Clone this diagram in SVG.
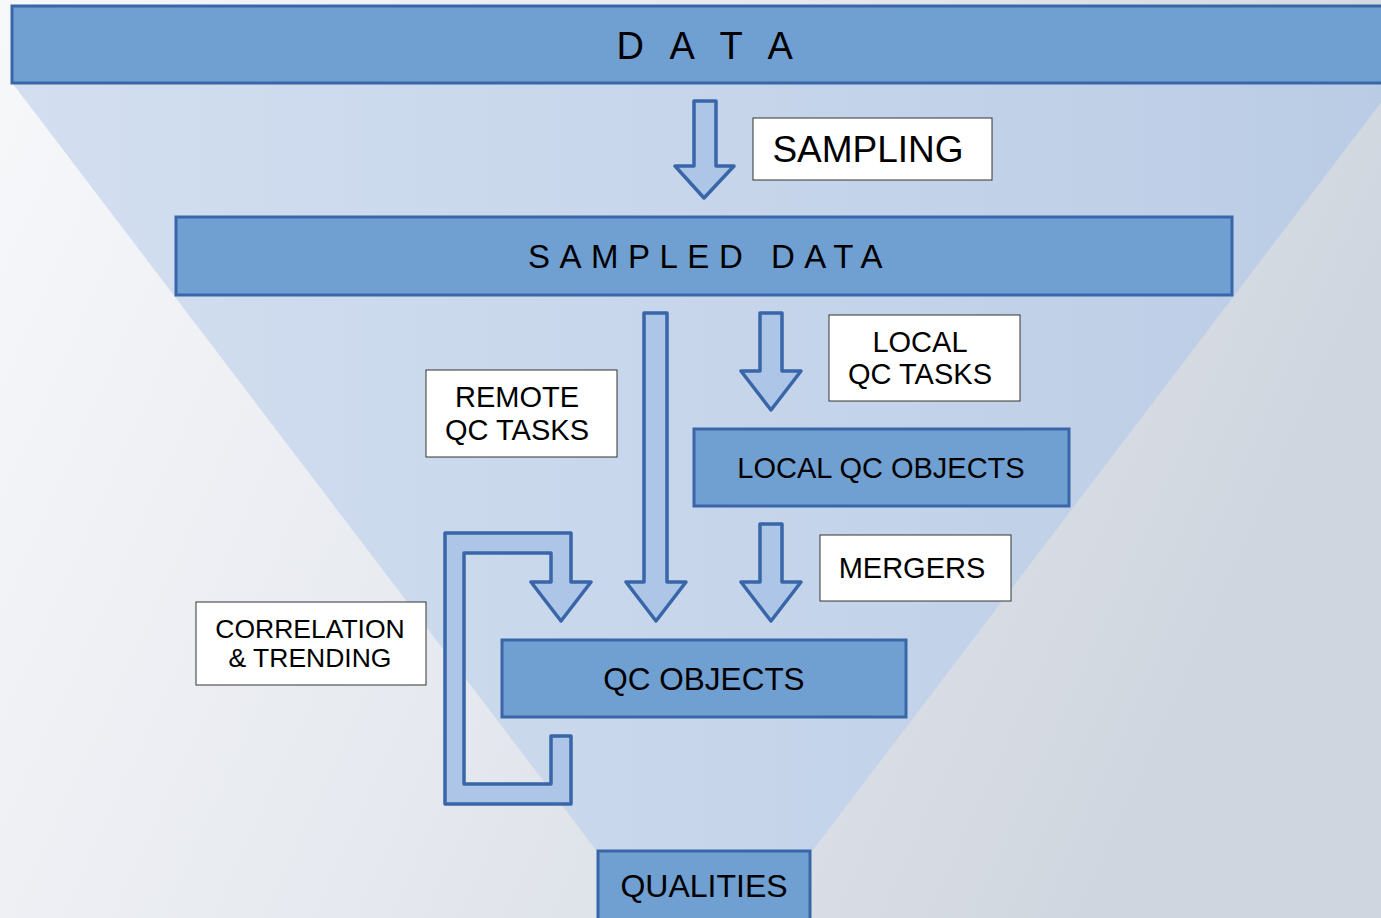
<svg xmlns="http://www.w3.org/2000/svg" width="1381" height="918" viewBox="0 0 1381 918">
<defs>
<linearGradient id="bg" x1="0" y1="0" x2="1" y2="0.3">
<stop offset="0" stop-color="#f7f8fa"/>
<stop offset="0.5" stop-color="#e6e9ef"/>
<stop offset="1" stop-color="#d0d6df"/>
</linearGradient>
<linearGradient id="fun" x1="0" y1="0" x2="1" y2="0">
<stop offset="0" stop-color="#d3dff0"/>
<stop offset="1" stop-color="#bacce5"/>
</linearGradient>
<style>
.bar{fill:#709fd1;stroke:#3866a8;stroke-width:3}
.arr{fill:#adc6e8;stroke:#3866a8;stroke-width:3.5;stroke-linejoin:round}
.lbl{fill:#ffffff;stroke:#333333;stroke-width:1}
text{font-family:"Liberation Sans",Arial,sans-serif;fill:#000000;text-anchor:middle}
</style>
</defs>
<rect width="1381" height="918" fill="url(#bg)"/>
<polygon points="13,84 1395,84 813,850 596,850" fill="url(#fun)"/>

<g id="connectors">
<path class="arr" d="M694,101 L716,101 L716,166 L734,166 L704,198 L675,166 L694,166 Z"/>
<path class="arr" d="M644,313 L667,313 L667,582 L686,582 L656,621 L626,582 L644,582 Z"/>
<path class="arr" d="M760,313 L782,313 L782,371 L801,371 L771,410 L741,371 L760,371 Z"/>
<path class="arr" d="M760,524 L782,524 L782,582 L801,582 L771,621 L741,582 L760,582 Z"/>
<path class="arr" d="M445,533 L571,533 L571,582 L591,582 L561,621 L531,582 L551,582 L551,553 L464,553 L464,784 L551,784 L551,736 L571,736 L571,804 L445,804 Z"/>
</g>

<g id="data">
<rect class="bar" x="12" y="6" width="1380" height="77"/>
<text x="709" y="59" font-size="38" letter-spacing="8.5">D A T A</text>
</g>
<g id="sampling">
<rect class="lbl" x="753" y="118" width="239" height="62"/>
<text x="868" y="162" font-size="37">SAMPLING</text>
</g>
<g id="sampled-data">
<rect class="bar" x="176" y="217" width="1056" height="78"/>
<text x="710" y="268" font-size="33" letter-spacing="9.5">SAMPLED DATA</text>
</g>
<g id="local-qc-tasks">
<rect class="lbl" x="829" y="315" width="191" height="86"/>
<text x="920" y="352" font-size="29">LOCAL</text>
<text x="920" y="384" font-size="29">QC TASKS</text>
</g>
<g id="remote-qc-tasks">
<rect class="lbl" x="426" y="370" width="191" height="87"/>
<text x="517" y="407" font-size="29">REMOTE</text>
<text x="517" y="440" font-size="29">QC TASKS</text>
</g>
<g id="local-qc-objects">
<rect class="bar" x="694" y="429" width="375" height="77"/>
<text x="881" y="478" font-size="29">LOCAL QC OBJECTS</text>
</g>
<g id="mergers">
<rect class="lbl" x="820" y="535" width="191" height="66"/>
<text x="912" y="578" font-size="29">MERGERS</text>
</g>
<g id="correlation">
<rect class="lbl" x="196" y="602" width="230" height="83"/>
<text x="310" y="638" font-size="26.5">CORRELATION</text>
<text x="310" y="667" font-size="26.5">&amp; TRENDING</text>
</g>
<g id="qc-objects">
<rect class="bar" x="502" y="640" width="404" height="77"/>
<text x="704" y="690" font-size="31.5">QC OBJECTS</text>
</g>
<g id="qualities">
<rect class="bar" x="598" y="851" width="212" height="80"/>
<text x="704" y="897" font-size="32">QUALITIES</text>
</g>
</svg>
